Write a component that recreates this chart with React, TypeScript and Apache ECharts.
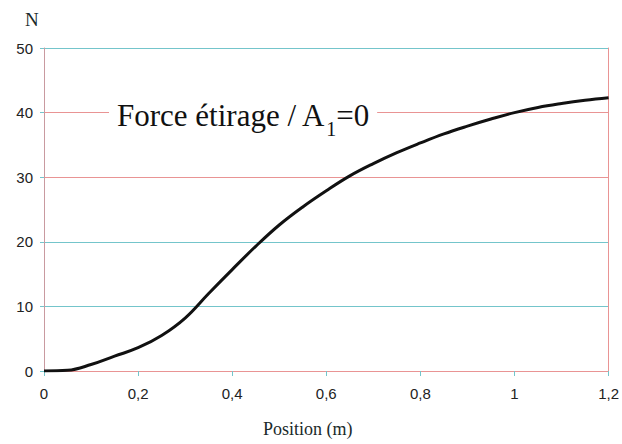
import React, { useEffect, useRef } from "react";
import * as echarts from "echarts";

const positions = [0, 0.05, 0.1, 0.15, 0.2, 0.25, 0.3, 0.35, 0.4, 0.45, 0.5, 0.55, 0.6, 0.65, 0.7, 0.75, 0.8, 0.85, 0.9, 0.95, 1.0, 1.05, 1.1, 1.15, 1.2];
const forces = [0, 0.1, 1.0, 2.3, 3.6, 5.5, 8.2, 12.0, 15.7, 19.3, 22.6, 25.4, 27.9, 30.2, 32.1, 33.8, 35.3, 36.7, 37.9, 39.0, 40.0, 40.8, 41.4, 41.9, 42.3];
const yTitle = "N";
const xTitle = "Position (m)";

const TEAL = "#74c5cb";
const RED = "#e99494";
const SERIF = "'Liberation Serif', 'DejaVu Serif', serif";
const SANS = "'Liberation Sans', Arial, sans-serif";

export default function App() {
  const ref = useRef<HTMLDivElement>(null);
  useEffect(() => {
    const chart = echarts.init(ref.current!, null, { renderer: "svg" });
    chart.setOption({
      animation: false,
      backgroundColor: "#ffffff",
      grid: { left: 44, right: 13, top: 48, bottom: 73, containLabel: false },
      xAxis: {
        type: "value",
        min: 0,
        max: 1.2,
        interval: 0.2,
        axisLine: { show: true, lineStyle: { color: RED, width: 1 } },
        axisTick: { show: true, length: 5, lineStyle: { color: TEAL } },
        axisLabel: {
          margin: 15,
          fontFamily: SANS,
          fontSize: 15,
          color: "#222",
          formatter: (v: number) => String(+v.toFixed(1)).replace(".", ","),
        },
        splitLine: { show: false },
      },
      yAxis: [
        {
          type: "value",
          min: 0,
          max: 50,
          interval: 10,
          axisLine: { show: true, lineStyle: { color: "#c99aa0", width: 1 } },
          axisTick: { show: true, length: 4, lineStyle: { color: TEAL } },
          axisLabel: { margin: 11, fontFamily: SANS, fontSize: 15, color: "#222" },
          splitLine: {
            show: true,
            lineStyle: { color: [RED, TEAL, TEAL, RED, RED, TEAL], width: 1 },
          },
        },
        {
          type: "value",
          min: 0,
          max: 50,
          interval: 10,
          position: "right",
          axisLine: { show: true, lineStyle: { color: RED, width: 1 } },
          axisTick: { show: false },
          axisLabel: { show: false },
          splitLine: { show: false },
        },
      ],
      graphic: [
        {
          type: "text",
          left: 25,
          top: 10,
          style: { text: yTitle, fontFamily: SERIF, fontSize: 19, fill: "#1a2a2a" },
        },
        {
          type: "text",
          left: 263,
          top: 420,
          style: { text: xTitle, fontFamily: SERIF, fontSize: 18, fill: "#1a2a2a" },
        },
        {
          type: "text",
          left: 109,
          top: 93,
          z: 10,
          style: {
            text: "{m|Force étirage / A}{s|1}{m|=0}",
            backgroundColor: "#ffffff",
            padding: [0, 8, 0, 8],
            rich: {
              m: { fontFamily: SERIF, fontSize: 31, fill: "#111", lineHeight: 38, verticalAlign: "bottom" },
              s: { fontFamily: SERIF, fontSize: 20, fill: "#111", lineHeight: 38, verticalAlign: "bottom", padding: [0, 0, -8, 0] },
            },
          },
        },
      ],
      series: [
        {
          type: "line",
          data: positions.map((p, i) => [p, forces[i]]),
          smooth: 0.4,
          showSymbol: false,
          lineStyle: { color: "#111", width: 3 },
          z: 5,
        },
      ],
    });
    return () => chart.dispose();
  }, []);
  return <div ref={ref} style={{ position: "fixed", left: 0, top: 0, width: 622, height: 444 }} />;
}
